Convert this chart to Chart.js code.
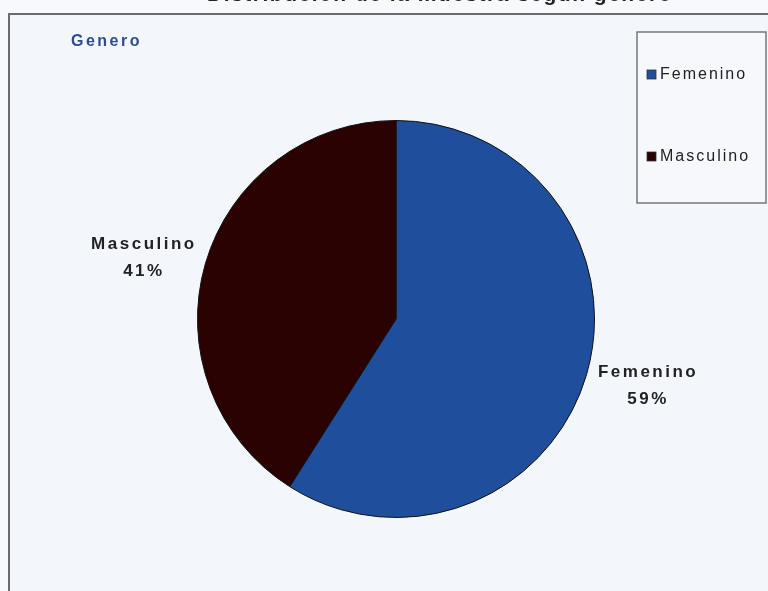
<!DOCTYPE html>
<html>
<head>
  <meta charset="utf-8">
  <title>Genero</title>
  <script src="https://cdn.jsdelivr.net/npm/chart.js"></script>
  <style>
    html, body { margin: 0; padding: 0; background: #f7f9fc; }
    #wrap { position: relative; width: 768px; height: 591px; }
  </style>
</head>
<body>
  <div id="wrap">
    <canvas id="myChart"></canvas>
  </div>
  <script>
    // data
    var categories = ['Femenino', 'Masculino'];
    var percents = [59, 41];
    var sliceColors = ['#1f4f9c', '#2a0202'];
    var chartTitle = 'Distribución de la muestra según género';
    var boxTitle = 'Genero';

    // frame, titles and custom legend drawn on the canvas
    var framePlugin = {
      id: 'frame',
      beforeDraw: function(chart) {
        var ctx = chart.ctx;
        ctx.save();
        ctx.fillStyle = '#f7f9fc';
        ctx.fillRect(0, 0, chart.width, chart.height);
        ctx.fillStyle = '#f3f6fb';
        ctx.fillRect(9, 15, chart.width - 9, chart.height - 15);
        ctx.strokeStyle = '#6b6b6b';
        ctx.lineWidth = 2;
        ctx.beginPath();
        ctx.moveTo(9, chart.height);
        ctx.lineTo(9, 14);
        ctx.lineTo(chart.width, 14);
        ctx.stroke();

        // title of the figure, cut off at the top
        ctx.fillStyle = '#222';
        ctx.font = 'bold 21px "Liberation Sans", Arial, sans-serif';
        ctx.letterSpacing = '1.5px';
        ctx.textAlign = 'center';
        ctx.textBaseline = 'alphabetic';
        ctx.fillText(chartTitle, 440, 1);

        // "Genero"
        ctx.fillStyle = '#2c4c98';
        ctx.font = 'bold 16px "Liberation Sans", Arial, sans-serif';
        ctx.letterSpacing = '2.5px';
        ctx.textAlign = 'left';
        ctx.fillText(boxTitle, 71, 46);

        // legend box
        ctx.fillStyle = '#f6f8fc';
        ctx.fillRect(637, 32, 129, 171);
        ctx.strokeStyle = '#777';
        ctx.lineWidth = 1.5;
        ctx.strokeRect(637, 32, 129, 171);
        ctx.font = '16px "Liberation Sans", Arial, sans-serif';
        ctx.letterSpacing = '2px';
        ctx.textBaseline = 'middle';
        var ys = [74, 156];
        for (var i = 0; i < categories.length; i++) {
          ctx.fillStyle = sliceColors[i];
          ctx.fillRect(647, ys[i] - 4, 9, 9);
          ctx.strokeStyle = '#333';
          ctx.lineWidth = 0.8;
          ctx.strokeRect(647, ys[i] - 4, 9, 9);
          ctx.fillStyle = '#222';
          ctx.fillText(categories[i], 660, ys[i] + 1);
        }
        ctx.restore();
      },
      afterDatasetsDraw: function(chart) {
        var ctx = chart.ctx;
        var meta = chart.getDatasetMeta(0);
        ctx.save();
        ctx.fillStyle = '#222';
        ctx.font = 'bold 17px "Liberation Sans", Arial, sans-serif';
        ctx.letterSpacing = '2.5px';
        ctx.textAlign = 'center';
        ctx.textBaseline = 'alphabetic';
        meta.data.forEach(function(arc, i) {
          var mid = (arc.startAngle + arc.endAngle) / 2;
          var d = arc.outerRadius + 64;
          var x = arc.x + Math.cos(mid) * d;
          var y = arc.y + Math.sin(mid) * d * 0.88;
          ctx.fillText(categories[i], x, y - 6);
          ctx.fillText(percents[i] + '%', x, y + 21);
        });
        ctx.restore();
      }
    };

    var ctx = document.getElementById('myChart').getContext('2d');
    var myChart = new Chart(ctx, {
      type: 'pie',
      data: {
        labels: categories,
        datasets: [{
          data: percents,
          backgroundColor: sliceColors,
          borderColor: '#111',
          borderWidth: 1
        }]
      },
      options: {
        responsive: true,
        maintainAspectRatio: false,
        animation: false,
        layout: {
          padding: { left: 197, right: 173, top: 120, bottom: 73 }
        },
        plugins: {
          legend: { display: false },
          tooltip: { enabled: false },
          title: { display: false }
        }
      },
      plugins: [framePlugin]
    });
  </script>
</body>
</html>
